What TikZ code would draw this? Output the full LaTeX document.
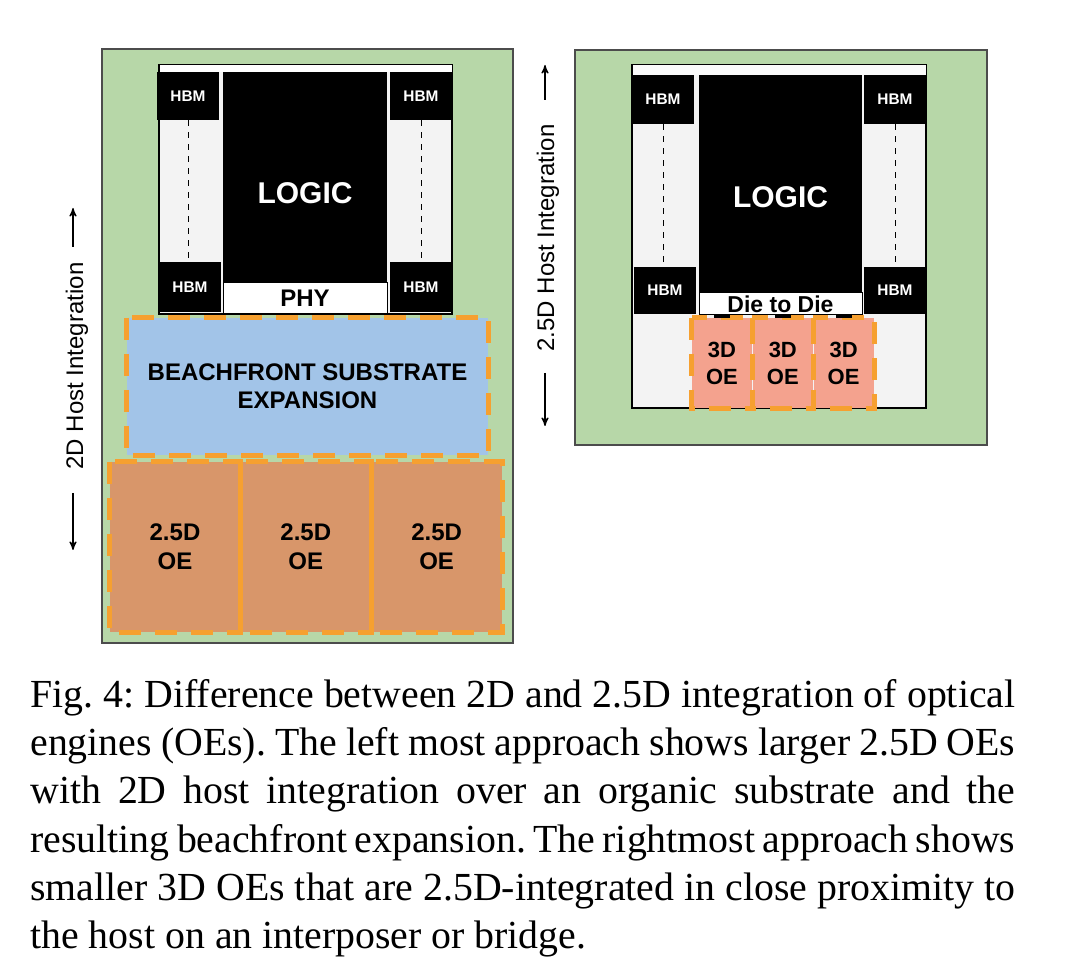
\documentclass[tikz,border=0pt]{standalone}
\usepackage{fontspec}
\setmainfont{Liberation Serif}
\newfontfamily\arialfont{Liberation Sans}
\usetikzlibrary{arrows, positioning}

\definecolor{pkggreen}{HTML}{B7D7A8}
\definecolor{interpgray}{HTML}{F3F3F3}
\definecolor{beachblue}{HTML}{A2C4E8}
\definecolor{dashorange}{HTML}{F6A030}
\definecolor{oebrown}{HTML}{D8966A}
\definecolor{oesalmon}{HTML}{F4A28E}

\newcommand{\lblsize}[2]{\arialfont\bfseries\fontsize{#1}{#2}\selectfont}

\tikzset{
  pkg/.style={fill=pkggreen, draw=black!70, line width=0.6pt},
  interp/.style={fill=interpgray, draw=black, line width=0.6pt},
  hbm/.style={fill=black, text=white, inner sep=0pt, minimum width=31pt,
    minimum height=24pt, font=\lblsize{7.7}{9}},
  logic/.style={fill=black, inner sep=0pt, minimum width=82pt},
  logiclbl/.style={text=white, font=\lblsize{15}{18}},
  phy/.style={fill=white, draw=black, line width=0.5pt, inner sep=0pt,
    minimum width=82pt, font=\lblsize{12}{14}},
  oedash/.style={draw=dashorange, line width=2.5pt, dash pattern=on 11pt off 7pt},
  oesep/.style={draw=white!70!oebrown, line width=0.6pt},
  oebox/.style={inner sep=0pt, align=center},
  bigoe/.style={oebox, fill=oebrown, minimum width=65pt, minimum height=85pt,
    font=\lblsize{12}{14.5}},
  smalloe/.style={oebox, fill=oesalmon, minimum width=30pt, minimum height=45pt,
    font=\lblsize{11}{13.5}},
  hostlbl/.style={rotate=90, font=\arialfont\fontsize{12}{12}\selectfont},
  hostarrow/.style={->, >=stealth', line width=0.6pt}
}

\begin{document}
\begin{tikzpicture}[x=0.5pt, y=-0.5pt]
  \useasboundingbox (0,0) rectangle (1080,977);

  % left: 2D host integration
  \draw[pkg] (102,49) rectangle (513,643);
  \draw[interp] (159,65) rectangle (452,314);
  \fill[white] (159.5,65.5) rectangle (451.5,72);

  \node[hbm] (hbmTL) at (188,96) {HBM};
  \node[hbm] (hbmBL) at (190,287) [minimum height=25pt] {HBM};
  \node[hbm] (hbmTR) at (421,96) {HBM};
  \node[hbm] (hbmBR) at (421,287) [minimum height=25pt] {HBM};
  \node[logic, minimum height=105pt,
    label={[logiclbl, yshift=-8pt]center:LOGIC}] (logic) at (305,177) {};
  \node[phy, minimum height=15.5pt, below=0pt of logic] (phy) {PHY};
  \draw[dashed] (hbmTL.south) -- (hbmTL.south |- hbmBL.north);
  \draw[dashed] (hbmTR.south) -- (hbmTR.south |- hbmBR.north);

  \node[oebox, fill=beachblue, minimum width=180.5pt, minimum height=68.5pt,
    font=\lblsize{12}{14}] (beach) at (307.5,386.5)
    {BEACHFRONT SUBSTRATE\\EXPANSION};

  \node[bigoe] (oeA) at (175,547) {2.5D\\OE};
  \node[bigoe, right=0pt of oeA] (oeB) {2.5D\\OE};
  \node[bigoe, right=0pt of oeB] (oeC) {2.5D\\OE};
  \draw[oesep] (oeA.north east) -- (oeA.south east);
  \draw[oesep] (oeB.north east) -- (oeB.south east);
  \foreach \n in {beach, oeA, oeB, oeC}
    \draw[oedash] (\n.north west) rectangle (\n.south east);

  \coordinate (upL) at (73,208);
  \coordinate (downL) at (73,550);
  \node[hostlbl] (hostL) at (77,366) {2D Host Integration};
  \draw[hostarrow] ([yshift=-19.5pt]upL) -- (upL);
  \draw[hostarrow] ([yshift=28.5pt]downL) -- (downL);

  % right: 2.5D host integration
  \draw[pkg] (575,50) rectangle (987,445);
  \draw[interp] (632,65) rectangle (926,408);
  \fill[white!60!interpgray] (632.5,65.5) rectangle (925.5,75);

  \node[hbm, minimum height=24.5pt] (hbmTL2) at (663,99.5) {HBM};
  \node[hbm, minimum height=23.5pt] (hbmBL2) at (665,290.5) {HBM};
  \node[hbm, minimum height=24.5pt] (hbmTR2) at (895,99.5) {HBM};
  \node[hbm, minimum height=23.5pt] (hbmBR2) at (895,290.5) {HBM};
  \node[logic, minimum width=81.5pt, minimum height=108.5pt,
    label={[logiclbl, yshift=-7pt]center:LOGIC}] (logic2) at (780.5,183.5) {};
  \node[phy, minimum width=81.5pt, minimum height=11pt, below=0pt of logic2,
    font=\lblsize{11.5}{12}] (d2d) {Die to Die};
  \draw[dashed] (hbmTL2.south) -- (hbmTL2.south |- hbmBL2.north);
  \draw[dashed] (hbmTR2.south) -- (hbmTR2.south |- hbmBR2.north);

  \node[smalloe] (oe3A) at (722,363) {3D\\OE};
  \node[smalloe, right=0pt of oe3A] (oe3B) {3D\\OE};
  \node[smalloe, right=0pt of oe3B] (oe3C) {3D\\OE};
  \foreach \n in {oe3A, oe3B, oe3C} {
    \draw[oedash] (\n.north west) rectangle (\n.south east);
    \fill[black] ([xshift=-4pt]\n.north) rectangle ([xshift=4pt,yshift=1.5pt]\n.north);
  }

  \coordinate (upR) at (545,65);
  \coordinate (downR) at (545,426);
  \node[hostlbl] (hostR) at (548,238) {2.5D Host Integration};
  \draw[hostarrow] ([yshift=-17.5pt]upR) -- (upR);
  \draw[hostarrow] ([yshift=26.5pt]downR) -- (downR);

  % caption
  \node[anchor=north west, inner sep=0pt, text width=492.5pt, align=justify,
    font=\fontsize{19.9}{24.1}\selectfont\frenchspacing] (caption) at (30,679)
    {Fig.~4: Difference between 2D and 2.5D integration of optical\linebreak
     engines (OEs). The left most approach shows larger 2.5D OEs\linebreak
     with 2D host integration over an organic substrate and the\linebreak
     resulting beachfront expansion. The rightmost approach shows\linebreak
     smaller 3D OEs that are 2.5D-integrated in close proximity to\linebreak
     the host on an interposer or bridge.};
\end{tikzpicture}
\end{document}
